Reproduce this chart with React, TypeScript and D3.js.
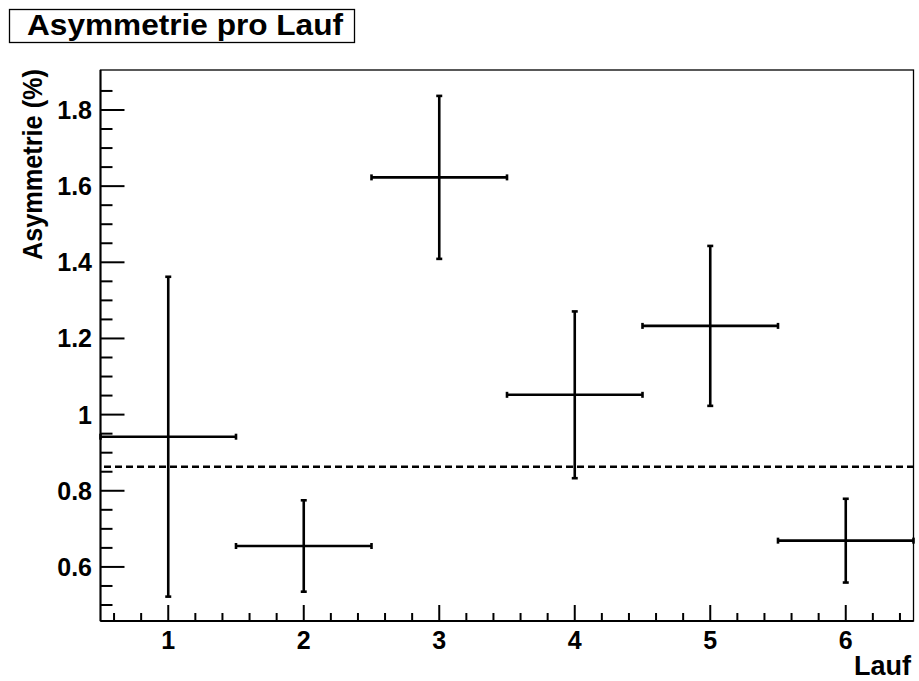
import React from 'react';
import * as d3 from 'd3';

// data
const runs = [1, 2, 3, 4, 5, 6];
const asym = [0.942, 0.655, 1.623, 1.052, 1.233, 0.669];
const asymErr = [0.42, 0.12, 0.214, 0.219, 0.21, 0.11];
const meanAsym = 0.863;

const yMajor = [0.6, 0.8, 1.0, 1.2, 1.4, 1.6, 1.8];
const yLabels = ['0.6', '0.8', '1', '1.2', '1.4', '1.6', '1.8'];
const xLabels = ['1', '2', '3', '4', '5', '6'];

const W = 919;
const H = 681;
const margin = { top: 70, right: 5.5, bottom: 60, left: 100.5 };
const font = 'Arial, "Liberation Sans", Helvetica, sans-serif';

const App = () => {
  const x = d3
    .scaleLinear()
    .domain([0.5, 6.5])
    .range([margin.left, W - margin.right]);
  const y = d3
    .scaleLinear()
    .domain([0.458, 1.905])
    .range([H - margin.bottom, margin.top]);

  const x0 = x.range()[0];
  const x1 = x.range()[1];
  const yb = y.range()[0];
  const yt = y.range()[1];

  // minor ticks (every 0.2 on x, every 0.05 on y)
  const xMinor = d3.range(0.6, 6.45, 0.2).filter((v) => Math.abs(v - Math.round(v)) > 0.01);
  const yMinor = d3.range(0.5, 1.9, 0.05).filter((v) => Math.abs(v * 5 - Math.round(v * 5)) > 0.01);

  const cap = 3;
  const lw = 2.6;

  return (
    <svg
      width={W}
      height={H}
      style={{ position: 'absolute', left: 0, top: 0, background: '#fff' }}
      fontFamily={font}
      fontWeight="bold"
    >
      {/* title box */}
      <rect x={9.5} y={9.5} width={345} height={33} fill="#fff" stroke="#000" strokeWidth={1.3} />
      <text x={27} y={35} fontSize={29} textLength={316} lengthAdjust="spacingAndGlyphs">
        Asymmetrie pro Lauf
      </text>

      {/* frame */}
      <rect x={x0} y={yt} width={x1 - x0} height={yb - yt} fill="none" stroke="#000" strokeWidth={1.3} />

      {/* mean line */}
      <line
        x1={x0 + 3.5}
        x2={x1}
        y1={y(meanAsym)}
        y2={y(meanAsym)}
        stroke="#000"
        strokeWidth={2.6}
        strokeDasharray="7,4"
      />

      {/* points with error bars */}
      {runs.map((r, i) => {
        const cx = x(r);
        const cy = y(asym[i]);
        const xl = x(r - 0.5);
        const xr = x(r + 0.5);
        const yTop = y(asym[i] + asymErr[i]);
        const yBot = y(asym[i] - asymErr[i]);
        return (
          <g key={r} stroke="#000" strokeWidth={lw}>
            <line x1={xl} x2={xr} y1={cy} y2={cy} />
            <line x1={cx} x2={cx} y1={yTop} y2={yBot} />
            <line x1={cx - cap} x2={cx + cap} y1={yTop} y2={yTop} />
            <line x1={cx - cap} x2={cx + cap} y1={yBot} y2={yBot} />
            <line x1={xl} x2={xl} y1={cy - cap} y2={cy + cap} />
            <line x1={xr} x2={xr} y1={cy - cap} y2={cy + cap} />
          </g>
        );
      })}

      {/* axes */}
      <g stroke="#000" strokeWidth={2}>
        <line x1={x0} x2={x1} y1={yb} y2={yb} />
        <line x1={x0} x2={x0} y1={yb} y2={yt} />
        {runs.map((v) => (
          <line key={'xm' + v} x1={x(v)} x2={x(v)} y1={yb} y2={yb - 16} />
        ))}
        {xMinor.map((v, i) => (
          <line key={'xn' + i} x1={x(v)} x2={x(v)} y1={yb} y2={yb - 8} />
        ))}
        {yMajor.map((v) => (
          <line key={'ym' + v} x1={x0} x2={x0 + 24} y1={y(v)} y2={y(v)} />
        ))}
        {yMinor.map((v, i) => (
          <line key={'yn' + i} x1={x0} x2={x0 + 12} y1={y(v)} y2={y(v)} />
        ))}
      </g>

      {/* tick labels */}
      {runs.map((v, i) => (
        <text key={'xl' + v} x={x(v)} y={649} fontSize={25} textAnchor="middle">
          {xLabels[i]}
        </text>
      ))}
      {yMajor.map((v, i) => (
        <text key={'yl' + v} x={92} y={y(v) + 9} fontSize={25} textAnchor="end">
          {yLabels[i]}
        </text>
      ))}

      {/* axis titles */}
      <text x={911} y={674.5} fontSize={27} textAnchor="end">
        Lauf
      </text>
      <text
        transform={`translate(42, ${yt - 1}) rotate(-90)`}
        fontSize={27}
        textAnchor="end"
        textLength={191}
        lengthAdjust="spacingAndGlyphs"
      >
        Asymmetrie (%)
      </text>
    </svg>
  );
};

export default App;
